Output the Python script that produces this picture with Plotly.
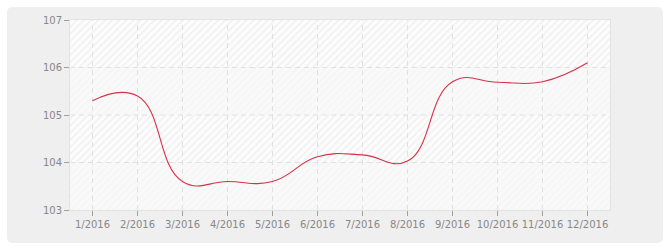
import plotly.graph_objects as go

months = ["1/2016", "2/2016", "3/2016", "4/2016", "5/2016", "6/2016",
          "7/2016", "8/2016", "9/2016", "10/2016", "11/2016", "12/2016"]
values = [105.3, 105.4, 103.6, 103.6, 103.6, 104.12, 104.16, 104.03, 105.7, 105.69, 105.7, 106.1]
y_ticks = [103, 104, 105, 106, 107]

W, H = 670, 250
ML, MR, MT, MB = 70, 60, 20, 40
PW, PH = W - ML - MR, H - MT - MB

x_idx = list(range(len(months)))
x_lo, x_hi = -0.5, len(months) - 0.5
y_lo, y_hi = y_ticks[0], y_ticks[-1]

fig = go.Figure()

# Alternating background bands (hatched / plain)
for i in range(len(y_ticks) - 1):
    lo, hi = y_ticks[i], y_ticks[i + 1]
    hatched = (len(y_ticks) - 2 - i) % 2 == 0
    kw = dict(
        x=[x_lo, x_hi, x_hi, x_lo, x_lo], y=[lo, lo, hi, hi, lo],
        mode="lines", line=dict(width=0), fill="toself",
        hoverinfo="skip", showlegend=False,
    )
    if hatched:
        kw["fillcolor"] = "#fcfcfc"
        kw["fillpattern"] = dict(shape="/", fgcolor="#e4e4e4", bgcolor="#fcfcfc",
                                 size=5, solidity=0.3)
    else:
        kw["fillcolor"] = "#f8f8f8"
        kw["fillpattern"] = dict(shape="/", fgcolor="#f1f1f1", bgcolor="#f9f9f9",
                                 size=5, solidity=0.3)
    fig.add_trace(go.Scatter(**kw))

# Dashed grid lines
gx, gy = [], []
for xi in x_idx:
    gx += [xi, xi, None]
    gy += [y_lo, y_hi, None]
for yt in y_ticks[1:-1]:
    gx += [x_lo, x_hi, None]
    gy += [yt, yt, None]
fig.add_trace(go.Scatter(x=gx, y=gy, mode="lines",
                         line=dict(color="#e1e1e1", width=1, dash="5px,4px"),
                         hoverinfo="skip", showlegend=False))

# Data line
fig.add_trace(go.Scatter(x=x_idx, y=values, mode="lines",
                         line=dict(color="#d9304a", width=1.1, shape="spline", smoothing=1.3),
                         showlegend=False))

# Rounded outer background
def px(x, y):
    return (x - ML) / PW, (MT + PH - y) / PH

x0, y0, x1, y1, r = 7, 7, 663, 243, 6
pts = [
    ("M", [(x0 + r, y0)]),
    ("L", [(x1 - r, y0)]),
    ("Q", [(x1, y0), (x1, y0 + r)]),
    ("L", [(x1, y1 - r)]),
    ("Q", [(x1, y1), (x1 - r, y1)]),
    ("L", [(x0 + r, y1)]),
    ("Q", [(x0, y1), (x0, y1 - r)]),
    ("L", [(x0, y0 + r)]),
    ("Q", [(x0, y0), (x0 + r, y0)]),
]
path = ""
for cmd, ps in pts:
    path += cmd + " " + " ".join("%.5f,%.5f" % px(*p) for p in ps) + " "
path += "Z"

fig.add_shape(type="path", path=path, xref="paper", yref="paper",
              fillcolor="#efefef", line=dict(width=0), layer="below")

fig.update_layout(
    width=W, height=H,
    margin=dict(l=ML, r=MR, t=MT, b=MB),
    paper_bgcolor="#ffffff",
    plot_bgcolor="rgba(0,0,0,0)",
    font=dict(family="DejaVu Sans", size=10, color="#888888"),
    xaxis=dict(range=[x_lo, x_hi], tickmode="array", tickvals=x_idx, ticktext=months,
               showgrid=False, zeroline=False, ticks="outside", ticklen=5,
               tickcolor="#a0a0a0", tickwidth=1,
               showline=True, linecolor="#e2e2e2", linewidth=1, mirror=True),
    yaxis=dict(range=[y_lo, y_hi], tickmode="array", tickvals=y_ticks,
               showgrid=False, zeroline=False, ticks="outside", ticklen=5,
               tickcolor="#a0a0a0", tickwidth=1,
               showline=True, linecolor="#e2e2e2", linewidth=1, mirror=True),
    hovermode=False,
)

fig.write_html("out.html")
